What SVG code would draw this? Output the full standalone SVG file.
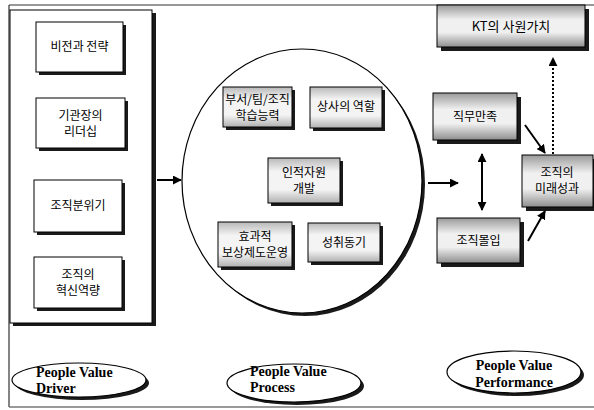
<svg xmlns="http://www.w3.org/2000/svg" width="594" height="410" viewBox="0 0 594 410">
<defs>
<linearGradient id="g" x1="0" y1="0" x2="0" y2="1">
<stop offset="0" stop-color="#b8b8b8"/>
<stop offset="0.3" stop-color="#f4f4f4"/>
<stop offset="0.7" stop-color="#f4f4f4"/>
<stop offset="1" stop-color="#b0b0b0"/>
</linearGradient>
<linearGradient id="g2" x1="0" y1="0" x2="0" y2="1">
<stop offset="0" stop-color="#9a9a9a"/>
<stop offset="0.35" stop-color="#f0f0f0"/>
<stop offset="0.65" stop-color="#f0f0f0"/>
<stop offset="1" stop-color="#8e8e8e"/>
</linearGradient>
<marker id="ah2" viewBox="0 0 10 10" refX="9" refY="5" markerWidth="9" markerHeight="9" orient="auto-start-reverse" markerUnits="userSpaceOnUse">
<path d="M0,0 L10,5 L0,10 z" fill="#000"/>
</marker>
</defs>
<style>
.sh{fill:#1a1a1a}
.bx{fill:#fff;stroke:#000;stroke-width:1}
.gb{fill:url(#g);stroke:#000;stroke-width:1}
.gb2{fill:url(#g2);stroke:#000;stroke-width:1}
.kt{font-family:"Noto Sans CJK KR","Noto Sans",sans-serif;font-size:12px;fill:#000;text-anchor:middle}
.en{font-family:"Liberation Serif",serif;font-weight:bold;font-size:14px;fill:#000}
.ln{stroke:#000;stroke-width:2;fill:none}
</style>
<rect width="594" height="410" fill="#fff"/>
<g id="frame">
<line x1="9" y1="5" x2="594" y2="5" stroke="#333" stroke-width="1.2"/>
<line x1="9" y1="5" x2="9" y2="407" stroke="#333" stroke-width="1.2"/>
<line x1="9" y1="407" x2="594" y2="407" stroke="#777" stroke-width="1.5"/>
</g>
<g id="driver-panel">
<rect class="sh" x="13" y="13" width="143" height="313"/>
<rect class="bx" x="10" y="10" width="142" height="313"/>
</g>
<g id="n-vision">
<rect class="sh" x="39" y="25" width="87" height="50"/>
<rect class="bx" x="36" y="22" width="87" height="50"/>
<text class="kt" x="79.5" y="51">비전과 전략</text>
</g>
<g id="n-leader">
<rect class="sh" x="39" y="101" width="89" height="50"/>
<rect class="bx" x="36" y="98" width="89" height="50"/>
<text class="kt" x="80.5" y="120">기관장의</text>
<text class="kt" x="80.5" y="136">리더십</text>
</g>
<g id="n-climate">
<rect class="sh" x="37" y="183" width="88" height="52"/>
<rect class="bx" x="34" y="180" width="88" height="52"/>
<text class="kt" x="78" y="210">조직분위기</text>
</g>
<g id="n-innov">
<rect class="sh" x="37" y="260" width="88" height="51"/>
<rect class="bx" x="34" y="257" width="88" height="51"/>
<text class="kt" x="78" y="279">조직의</text>
<text class="kt" x="78" y="295">혁신역량</text>
</g>
<g id="process-circle">
<ellipse cx="305" cy="184" rx="120" ry="132" fill="#1a1a1a"/>
<ellipse cx="302" cy="181" rx="120" ry="132" fill="#fff" stroke="#000" stroke-width="1.2"/>
</g>
<g id="n-learn">
<rect class="sh" x="226" y="90" width="69" height="40"/>
<rect class="gb" x="223" y="87" width="69" height="40"/>
<text class="kt" x="257.5" y="104">부서/팀/조직</text>
<text class="kt" x="257.5" y="120">학습능력</text>
</g>
<g id="n-boss">
<rect class="sh" x="313" y="90" width="72" height="41"/>
<rect class="gb" x="310" y="87" width="72" height="41"/>
<text class="kt" x="346" y="111">상사의 역할</text>
</g>
<g id="n-hrd">
<rect class="sh" x="271" y="161" width="72" height="45"/>
<rect class="gb" x="268" y="158" width="72" height="45"/>
<text class="kt" x="304" y="177">인적자원</text>
<text class="kt" x="304" y="193">개발</text>
</g>
<g id="n-reward">
<rect class="sh" x="221" y="225" width="74" height="45"/>
<rect class="gb" x="218" y="222" width="74" height="45"/>
<text class="kt" x="255" y="241">효과적</text>
<text class="kt" x="255" y="257">보상제도운영</text>
</g>
<g id="n-achieve">
<rect class="sh" x="311" y="226" width="72" height="39"/>
<rect class="gb" x="308" y="223" width="72" height="39"/>
<text class="kt" x="344" y="247">성취동기</text>
</g>
<g id="n-kt">
<rect class="sh" x="441" y="9" width="148" height="42"/>
<rect class="gb2" x="437" y="5" width="148" height="42"/>
<text class="kt" x="511" y="31" style="font-size:13px">KT의 사원가치</text>
</g>
<g id="n-satisf">
<rect class="sh" x="437" y="97" width="84" height="47"/>
<rect class="gb2" x="433" y="93" width="84" height="47"/>
<text class="kt" x="475" y="121">직무만족</text>
</g>
<g id="n-future">
<rect class="sh" x="526" y="159" width="68" height="52"/>
<rect class="gb2" x="522" y="155" width="71" height="52"/>
<text class="kt" x="557" y="177">조직의</text>
<text class="kt" x="557" y="193">미래성과</text>
</g>
<g id="n-commit">
<rect class="sh" x="441" y="222" width="83" height="45"/>
<rect class="gb2" x="437" y="218" width="83" height="45"/>
<text class="kt" x="478.5" y="245">조직몰입</text>
</g>
<g id="l-driver">
<ellipse cx="82" cy="383" rx="67" ry="17" fill="#1a1a1a"/>
<ellipse cx="79" cy="380" rx="67" ry="17" fill="#fff" stroke="#000" stroke-width="1.2"/>
<text class="en" x="36" y="377">People Value</text>
<text class="en" x="36" y="393">Driver</text>
</g>
<g id="l-process">
<ellipse cx="297" cy="386" rx="67" ry="19" fill="#1a1a1a"/>
<ellipse cx="294" cy="383" rx="67" ry="19" fill="#fff" stroke="#000" stroke-width="1.2"/>
<text class="en" x="250" y="376">People Value</text>
<text class="en" x="250" y="392">Process</text>
</g>
<g id="l-perf">
<ellipse cx="517" cy="375" rx="67" ry="21" fill="#1a1a1a"/>
<ellipse cx="514" cy="372" rx="67" ry="21" fill="#fff" stroke="#000" stroke-width="1.2"/>
<text class="en" x="514" y="370" text-anchor="middle">People Value</text>
<text class="en" x="514" y="387" text-anchor="middle">Performance</text>
</g>
<g id="connectors">
<line class="ln" x1="157" y1="180" x2="181" y2="180" marker-end="url(#ah2)"/>
<line class="ln" x1="428" y1="183" x2="458" y2="183" marker-end="url(#ah2)"/>
<line class="ln" x1="482" y1="154" x2="482" y2="210" marker-start="url(#ah2)" marker-end="url(#ah2)"/>
<line class="ln" x1="525" y1="125" x2="545" y2="153" marker-end="url(#ah2)"/>
<line class="ln" x1="528" y1="241" x2="545" y2="211" marker-end="url(#ah2)"/>
<line x1="553" y1="154" x2="553" y2="58" stroke="#000" stroke-width="2" stroke-dasharray="2,2" marker-end="url(#ah2)"/>
</g>
</svg>
